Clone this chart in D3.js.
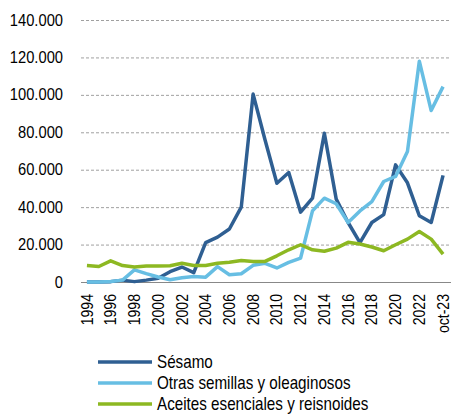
<!DOCTYPE html>
<meta charset="utf-8">
<head>
<style>
body { margin: 0; background: #fff; }
svg { display: block; }
text {
  font-family: "Liberation Sans", Arial, sans-serif;
  font-size: 16px;
  fill: #000;
}
.legend text { font-size: 18px; }
.grid line {
  stroke: #a0a0a0;
  stroke-width: 1;
  stroke-dasharray: 3,2;
}
.series {
  fill: none;
  stroke-width: 3.5;
  stroke-linejoin: round;
}
</style>
<script src="https://d3js.org/d3.v7.min.js"></script>
</head>
<body>
<svg width="451" height="415"></svg>
<script>

var periods = ["1994","1995","1996","1997","1998","1999","2000","2001","2002","2003",
  "2004","2005","2006","2007","2008","2009","2010","2011","2012","2013",
  "2014","2015","2016","2017","2018","2019","2020","2021","2022","oct-22","oct-23"];

var sesamo = [0,0,200,1000,200,1000,2000,5500,8000,5000,
  21000,24000,28300,40000,100400,76000,52800,58500,37300,44800,
  79500,44300,31800,21000,31800,36000,62600,53000,35400,31800,57000];

var otras = [0,0,300,1000,6500,4500,2700,1200,2300,3000,
  2600,8200,3900,4400,8900,10000,7500,10500,12800,38000,
  44800,41800,31800,38000,43000,53700,56400,69700,118000,91600,104400];

var aceites = [8800,8300,11300,8800,8000,8500,8500,8700,10000,8800,
  8800,10000,10600,11500,11000,11000,14000,17200,19900,17200,
  16400,18100,21200,20300,18700,16700,19900,22900,27000,22900,14900];

var yTicks = [0,20000,40000,60000,80000,100000,120000,140000];

var seriesNames = ["Sésamo", "Otras semillas y oleaginosos", "Aceites esenciales y reisnoides"];
var seriesColors = ["#2f5f92", "#67bee3", "#8db822"];

var svg = d3.select("svg"),
    width = +svg.attr("width"),
    height = +svg.attr("height");

var plotLeft = 81, plotRight = 449, plotTop = 20, plotBottom = 282;

var x = d3.scaleBand()
    .domain(periods)
    .range([plotLeft, plotRight]);

var y = d3.scaleLinear()
    .domain([0, 140000])
    .range([plotBottom, plotTop]);

var locale = d3.formatLocale({decimal: ",", thousands: ".", grouping: [3], currency: ["", "€"]});
var fmt = locale.format(",.0f");

// gridlines
svg.append("g")
    .attr("class", "grid")
  .selectAll("line")
  .data(yTicks.filter(function(d) { return d > 0; }))
  .enter().append("line")
    .attr("x1", plotLeft)
    .attr("x2", width)
    .attr("y1", function(d) { return y(d) + 0.5; })
    .attr("y2", function(d) { return y(d) + 0.5; });

// y labels (the original font is a bit condensed)
svg.append("g")
  .selectAll("text")
  .data(yTicks)
  .enter().append("text")
    .attr("transform", function(d) { return "translate(63," + y(d) + ") scale(0.92,1)"; })
    .attr("dy", "0.35em")
    .attr("text-anchor", "end")
    .text(function(d) { return fmt(d); });

// x axis baseline
svg.append("line")
    .attr("x1", plotLeft)
    .attr("x2", width)
    .attr("y1", plotBottom + 0.5)
    .attr("y2", plotBottom + 0.5)
    .attr("stroke", "#888")
    .attr("stroke-width", 1.2);

// x labels, every other category
svg.append("g")
  .selectAll("text")
  .data(periods.filter(function(d, i) { return i % 2 == 0; }))
  .enter().append("text")
    .attr("transform", function(d) {
      return "translate(" + (x(d) + x.bandwidth() / 2) + "," + (plotBottom + 12) + ") rotate(-90) scale(0.88,1)";
    })
    .attr("dy", "0.35em")
    .attr("text-anchor", "end")
    .text(function(d) { return d; });

var line = d3.line()
    .x(function(d, i) { return x(periods[i]) + x.bandwidth() / 2; })
    .y(function(d) { return y(d); });

[sesamo, otras, aceites].forEach(function(values, k) {
  svg.append("path")
      .datum(values)
      .attr("class", "series")
      .attr("stroke", seriesColors[k])
      .attr("d", line);
});

// legend
var legend = svg.append("g")
    .attr("class", "legend")
  .selectAll("g")
  .data(seriesNames)
  .enter().append("g")
    .attr("transform", function(d, i) { return "translate(98," + (362 + i * 21) + ")"; });

legend.append("line")
    .attr("x1", 0)
    .attr("x2", 54)
    .attr("stroke", function(d, i) { return seriesColors[i]; })
    .attr("stroke-width", 3.5);

legend.append("text")
    .attr("transform", "translate(59,0) scale(0.845,1)")
    .attr("dy", "0.35em")
    .text(function(d) { return d; });

</script>
</body>
